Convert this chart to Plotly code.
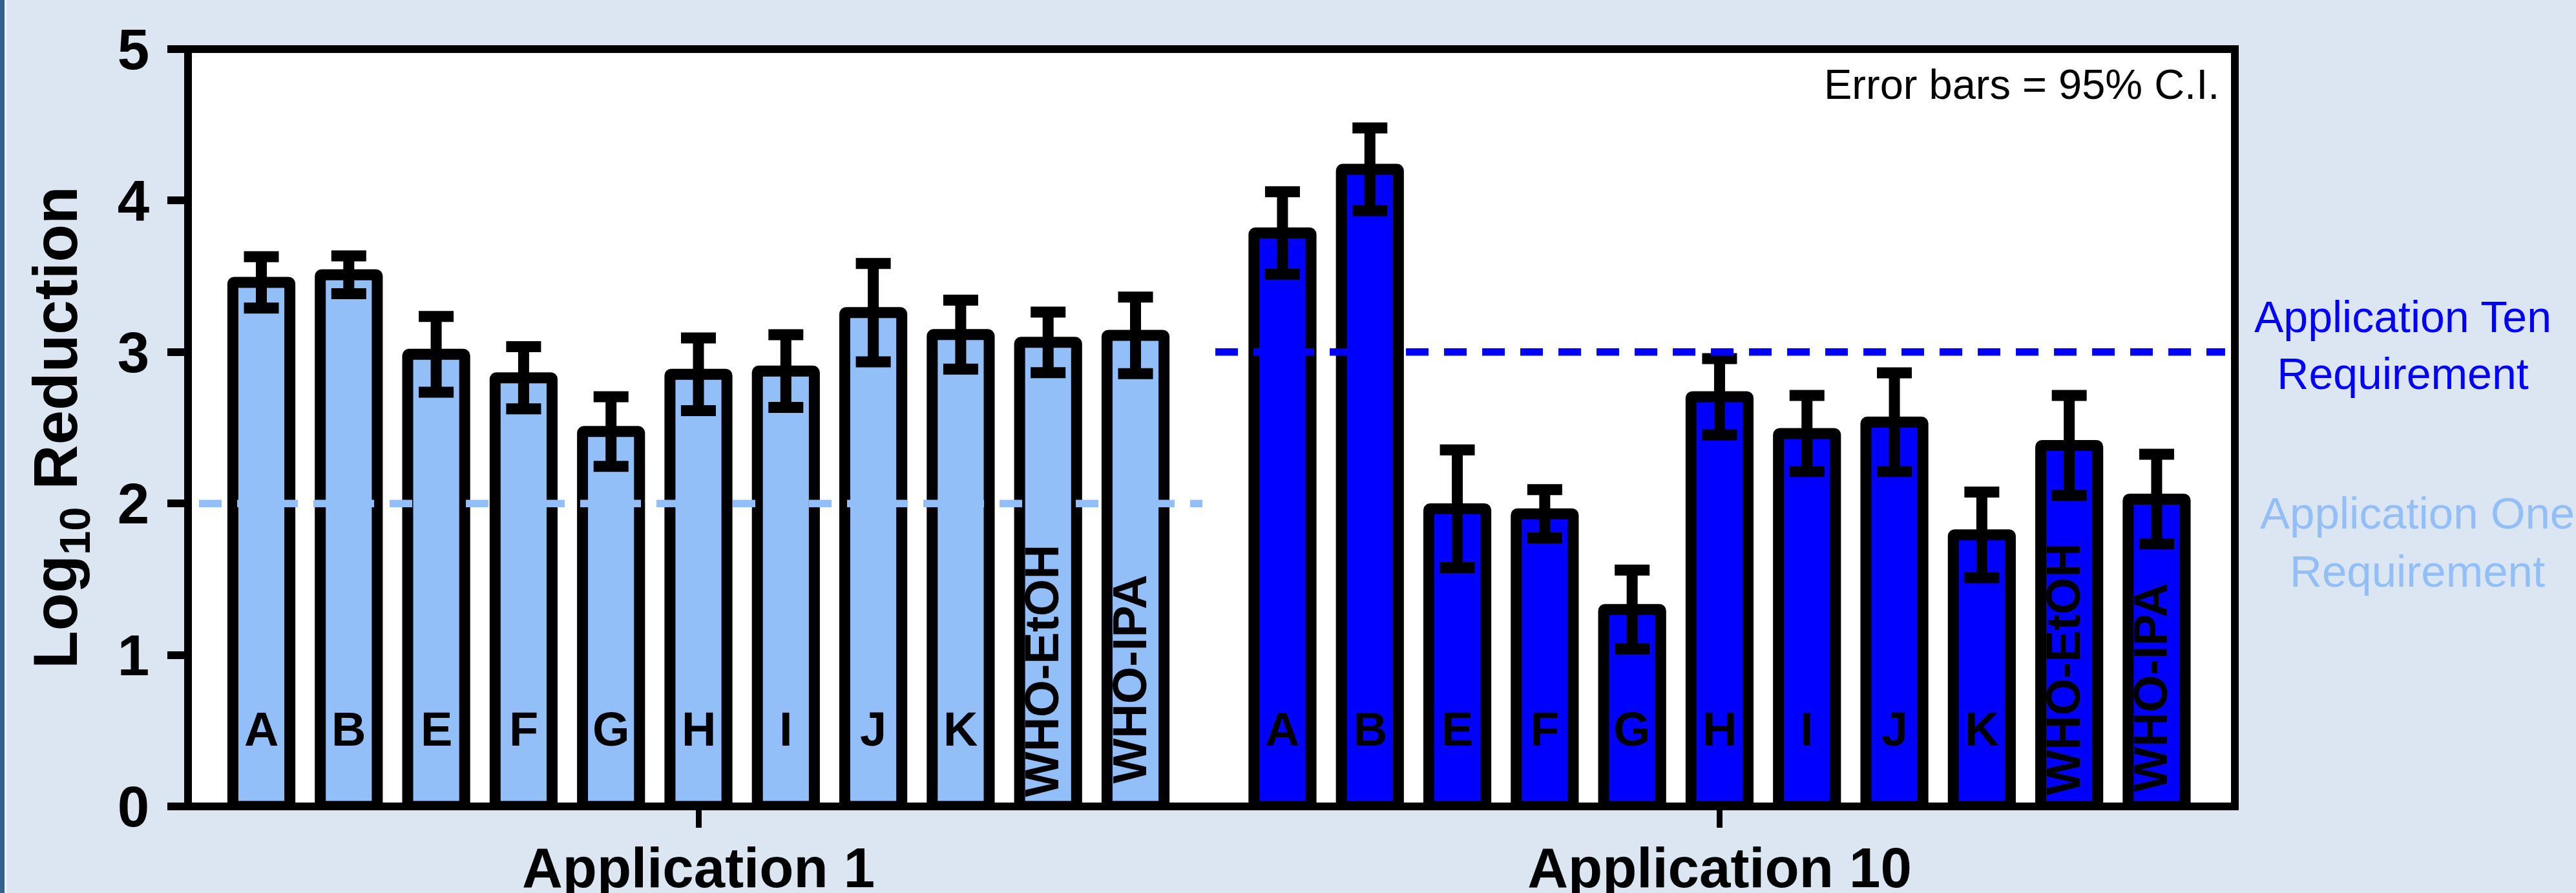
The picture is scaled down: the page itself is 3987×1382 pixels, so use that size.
import plotly.graph_objects as go

# ---- data ---------------------------------------------------------------
samples = ["A", "B", "E", "F", "G", "H", "I", "J", "K", "WHO-EtOH", "WHO-IPA"]

app1_mean = [3.46, 3.51, 2.985, 2.83, 2.475, 2.853, 2.874, 3.26, 3.115, 3.064, 3.11]
app1_ci = [0.17, 0.125, 0.25, 0.205, 0.23, 0.24, 0.24, 0.325, 0.228, 0.20, 0.253]

app10_mean = [3.786, 4.206, 1.965, 1.932, 1.30, 2.705, 2.462, 2.537, 1.793, 2.383, 2.029]
app10_ci = [0.272, 0.273, 0.389, 0.159, 0.26, 0.252, 0.251, 0.326, 0.283, 0.33, 0.296]

group_labels = ["Application 1", "Application 10"]
requirement_levels = [2, 3]
requirement_labels = ["Application One<br>Requirement", "Application Ten<br>Requirement"]
y_ticks = [0, 1, 2, 3, 4, 5]

# ---- layout constants ---------------------------------------------------
W, H = 3987, 1382
ML, MR, MT, MB = 291, 528, 76, 134
PW, PH = W - ML - MR, H - MT - MB

LIGHT = "#93BFF8"
DARK = "#0000FF"
BG = "#DCE6F2"
FONT = "Liberation Sans"

GROUP2_OFFSET = 11.681          # slot index of the first bar of the second group
SLOT_PX = 135.3                 # pixels per bar slot
X0 = -0.839
X1 = X0 + PW / SLOT_PX

x_app1 = [i for i in range(len(samples))]
x_app10 = [GROUP2_OFFSET + i for i in range(len(samples))]
group_centers = [x_app1[5], x_app10[5]]


def paper_x(px):
    return (px - ML) / PW


def paper_y(py):
    return (H - MB - py) / PH


def bar_trace(xs, ys, err, color):
    return go.Bar(
        x=xs, y=ys, width=0.652,
        marker=dict(color=color, line=dict(color="black", width=17), cornerradius=2),
        error_y=dict(type="data", array=err, color="black", thickness=17, width=27),
        showlegend=False, hoverinfo="skip",
    )


fig = go.Figure()
fig.add_trace(bar_trace(x_app1, app1_mean, app1_ci, LIGHT))
fig.add_trace(bar_trace(x_app10, app10_mean, app10_ci, DARK))

# sample names inside the bars
rot_center = {(0, "WHO-EtOH"): 0.896, (0, "WHO-IPA"): 0.84,
              (1, "WHO-EtOH"): 0.909, (1, "WHO-IPA"): 0.787}
annotations = []
for g, xs in enumerate([x_app1, x_app10]):
    for xv, name in zip(xs, samples):
        if len(name) == 1:
            annotations.append(dict(
                x=xv, y=0.51, xref="x", yref="y", text=name, showarrow=False,
                xanchor="center", yanchor="middle",
                font=dict(family=FONT, size=74, color="black", weight="bold")))
        else:
            annotations.append(dict(
                x=xv, y=rot_center[(g, name)], xref="x", yref="y", text=name,
                showarrow=False, textangle=-90, xanchor="center", yanchor="middle",
                xshift=-9,
                font=dict(family=FONT, size=74, color="black", weight="bold")))

# requirement captions to the right of the frame
annotations.append(dict(
    x=paper_x(3741), y=paper_y(839), xref="paper", yref="paper",
    text=requirement_labels[0], showarrow=False, xanchor="center", yanchor="middle",
    font=dict(family=FONT, size=69, color=LIGHT)))
annotations.append(dict(
    x=paper_x(3719), y=paper_y(534), xref="paper", yref="paper",
    text=requirement_labels[1], showarrow=False, xanchor="center", yanchor="middle",
    font=dict(family=FONT, size=68, color=DARK)))

# note in the top-right corner
annotations.append(dict(
    x=paper_x(3437), y=paper_y(130), xref="paper", yref="paper",
    text="Error bars = 95% C.I.", showarrow=False, xanchor="right", yanchor="middle",
    font=dict(family=FONT, size=65, color="black")))

# y-axis title
annotations.append(dict(
    x=paper_x(92), y=0.5, xref="paper", yref="paper",
    text="Log<sub>10</sub> Reduction", showarrow=False, textangle=-90,
    xanchor="center", yanchor="middle",
    font=dict(family=FONT, size=96, color="black", weight="bold")))

shapes = [
    # slide edge stripe
    dict(type="rect", xref="paper", yref="paper", x0=paper_x(0), x1=paper_x(7),
         y0=paper_y(H), y1=paper_y(0), fillcolor="#376092", line=dict(width=0),
         layer="below"),
    dict(type="rect", xref="paper", yref="paper", x0=paper_x(7), x1=paper_x(10),
         y0=paper_y(H), y1=paper_y(0), fillcolor="#F2F6FB", line=dict(width=0),
         layer="below"),
    # requirement lines
    dict(type="line", xref="x", yref="y", x0=-0.713, x1=10.765,
         y0=requirement_levels[0], y1=requirement_levels[0],
         line=dict(color=LIGHT, width=11.5, dash="35px,24px"), layer="above"),
    dict(type="line", xref="x", yref="y", x0=10.913, x1=22.464,
         y0=requirement_levels[1], y1=requirement_levels[1],
         line=dict(color=DARK, width=11.5, dash="35px,24px"), layer="above"),
    # plot frame
    dict(type="rect", xref="paper", yref="paper", x0=0, x1=1, y0=0, y1=1,
         line=dict(color="black", width=12), fillcolor="rgba(0,0,0,0)", layer="above"),
]

fig.update_layout(
    width=W, height=H,
    margin=dict(l=ML, r=MR, t=MT, b=MB, pad=0, autoexpand=False),
    paper_bgcolor=BG, plot_bgcolor="white",
    barmode="overlay",
    annotations=annotations,
    shapes=shapes,
    xaxis=dict(
        range=[X0, X1], tickmode="array", tickvals=group_centers, ticktext=group_labels,
        ticks="outside", ticklen=32, tickwidth=9, tickcolor="black",
        tickfont=dict(family=FONT, size=87, color="black", weight="bold"),
        showline=False, showgrid=False, zeroline=False, ticklabelstandoff=-12,
        automargin=False,
    ),
    yaxis=dict(
        range=[0, 5], tickmode="array", tickvals=y_ticks,
        ticks="outside", ticklen=31, tickwidth=12, tickcolor="black",
        tickfont=dict(family=FONT, size=89, color="black", weight="bold"),
        showline=False, showgrid=False, zeroline=False, ticklabelstandoff=10,
        automargin=False,
    ),
)

fig.write_html("out.html")
